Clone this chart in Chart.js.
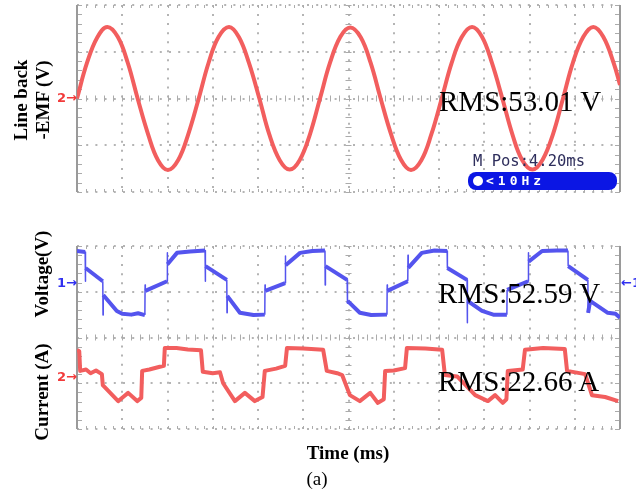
<!DOCTYPE html>
<html>
<head>
<meta charset="utf-8">
<script src="https://cdn.jsdelivr.net/npm/chart.js@4.4.1/dist/chart.umd.min.js"></script>
<style>
  html, body { margin: 0; padding: 0; background: #fff; }
  body { position: relative; width: 636px; height: 500px; overflow: hidden; }
  canvas { position: absolute; left: 0; }
  .txt { position: absolute; white-space: pre; line-height: 1; color: #000; }
  .rms { font: 29px 'Liberation Serif', serif; }
  .ytitle { position: absolute; white-space: pre; text-align: center;
            font: bold 19px 'Liberation Serif', serif; line-height: 22px;
            transform: translate(-50%, -50%) rotate(-90deg); }
  .mk { position: absolute; font: bold 13px 'DejaVu Sans', sans-serif; line-height: 13px; white-space: pre; }
  #mpos { position: absolute; left: 473px; top: 154px; font: 15.5px 'DejaVu Sans Mono', monospace;
          line-height: 1; color: #2e2e5c; }
  #trig { position: absolute; left: 468px; top: 172px; width: 149px; height: 18px; border-radius: 8px;
          background: #0b16e4; color: #fff; font: bold 13px 'DejaVu Sans Mono', monospace;
          line-height: 18px; letter-spacing: 4px; }
  #trig span.ico { display: inline-block; width: 10px; height: 10px; border-radius: 50%; background: #fff;
          margin: 0 3px 0 5px; vertical-align: -1px; }
</style>
</head>
<body>
<canvas id="emfChart" width="636" height="215" style="top:0"></canvas>
<canvas id="viChart" width="636" height="275" style="top:225px"></canvas>

<div class="ytitle" style="left:31.6px; top:100px">Line back<br>-EMF (V)</div>
<div class="ytitle" style="left:41.6px; top:274px">Voltage(V)</div>
<div class="ytitle" style="left:41.6px; top:392px">Current (A)</div>

<div class="mk" style="right:559px; top:91px; color:#f23a3a">2→</div>
<div class="mk" style="right:559px; top:276px; color:#3030f0">1→</div>
<div class="mk" style="right:559px; top:370px; color:#f23a3a">2→</div>
<div class="mk" style="left:621px; top:276px; color:#3030f0">←1</div>

<div class="txt rms" style="left:439px; top:85px">RMS:53.01 V</div>
<div class="txt rms" style="left:438px; top:277px">RMS:52.59 V</div>
<div class="txt rms" style="left:438px; top:365px">RMS:22.66 A</div>

<div id="mpos">M Pos:4.20ms</div>
<div id="trig"><span class="ico"></span>&lt;10Hz</div>

<div class="txt" style="left:348px; top:442px; transform:translateX(-50%); font:bold 19px 'Liberation Serif', serif">Time (ms)</div>
<div class="txt" style="left:317px; top:468px; transform:translateX(-50%); font:19px 'Liberation Serif', serif">(a)</div>

<script>
// time axis in scope divisions (12 div across), amplitude in vertical divisions

// line back-EMF
const emfTime = [0, 0.22, 0.45, 0.67, 0.90, 1.12, 1.34, 1.57, 1.79, 2.01, 2.24, 2.46,
  2.69, 2.91, 3.13, 3.36, 3.58, 3.80, 4.03, 4.25, 4.48, 4.70, 4.92, 5.15,
  5.37, 5.59, 5.82, 6.04, 6.27, 6.49, 6.71, 6.94, 7.16, 7.38, 7.61, 7.83,
  8.06, 8.28, 8.50, 8.73, 8.95, 9.17, 9.40, 9.62, 9.84, 10.07, 10.29, 10.52,
  10.74, 10.96, 11.19, 11.41, 11.63, 11.86, 12.0];
const emfVolts = [0, 0.76, 1.31, 1.53, 1.32, 0.77, 0, -0.76, -1.32, -1.53, -1.31, -0.76,
  0, 0.77, 1.32, 1.53, 1.31, 0.76, 0, -0.77, -1.32, -1.52, -1.32, -0.76,
  0, 0.76, 1.32, 1.52, 1.31, 0.76, 0, -0.76, -1.31, -1.53, -1.32, -0.77,
  0, 0.76, 1.31, 1.53, 1.32, 0.76, 0, -0.76, -1.32, -1.52, -1.31, -0.76,
  0, 0.77, 1.32, 1.53, 1.32, 0.76, 0.29];

// phase voltage (channel 1)
const voltTime = [0, 0.18, 0.185, 0.19, 0.57, 0.575, 0.58, 0.88, 1.0, 1.2, 1.35, 1.5,
  1.505, 1.51, 1.99, 1.995, 2.0, 2.21, 2.5, 2.83, 2.835, 2.84, 3.31, 3.315,
  3.32, 3.6, 3.9, 4.15, 4.155, 4.16, 4.6, 4.605, 4.61, 4.93, 5.2, 5.48,
  5.485, 5.49, 5.97, 5.975, 5.98, 6.25, 6.5, 6.85, 6.855, 6.86, 7.31, 7.315,
  7.32, 7.62, 7.9, 8.18, 8.185, 8.62, 8.625, 8.63, 8.95, 9.2, 9.5, 9.505,
  9.97, 9.975, 9.98, 10.28, 10.6, 10.85, 10.855, 11.29, 11.295, 11.34, 11.73, 11.9, 12.0];
const voltLevel = [1.89, 1.87, 1.23, 1.52, 1.23, 0.49, 0.93, 0.58, 0.52, 0.50, 0.53, 0.49,
  1.15, 1.02, 1.23, 1.85, 1.60, 1.85, 1.88, 1.90, 1.23, 1.56, 1.26, 0.54,
  0.91, 0.54, 0.49, 0.50, 1.15, 1.02, 1.19, 1.78, 1.58, 1.85, 1.89, 1.90,
  1.15, 1.56, 1.26, 0.75, 0.80, 0.54, 0.49, 0.50, 1.15, 1.02, 1.23, 1.80,
  1.52, 1.85, 1.90, 1.89, 1.52, 1.26, 0.32, 0.80, 0.58, 0.50, 0.50, 1.04,
  1.23, 1.85, 1.66, 1.89, 1.90, 1.90, 1.56, 1.26, 0.54, 0.80, 0.54, 0.52, 0.43];

// phase current (channel 2)
const currTime = [0, 0.05, 0.07, 0.2, 0.3, 0.42, 0.55, 0.57, 0.91, 1.02, 1.13, 1.33,
  1.42, 1.44, 1.6, 1.83, 1.92, 1.94, 2.2, 2.45, 2.74, 2.78, 3.0, 3.16,
  3.23, 3.49, 3.71, 3.93, 4.1, 4.15, 4.4, 4.6, 4.64, 5.0, 5.44, 5.52,
  5.75, 5.86, 6.03, 6.25, 6.48, 6.65, 6.78, 6.81, 7.0, 7.25, 7.29, 7.7,
  8.07, 8.13, 8.4, 8.6, 8.8, 9.08, 9.24, 9.41, 9.49, 9.52, 9.85, 9.9,
  10.3, 10.78, 10.83, 11.23, 11.38, 11.67, 11.96];
const currLevel = [-0.27, -0.30, -0.73, -0.70, -0.78, -0.72, -0.80, -1.04, -1.39, -1.30, -1.21, -1.39,
  -1.32, -0.73, -0.70, -0.64, -0.62, -0.23, -0.23, -0.26, -0.28, -0.75, -0.78, -0.76,
  -1.00, -1.39, -1.21, -1.39, -1.30, -0.73, -0.68, -0.62, -0.23, -0.24, -0.27, -0.73,
  -0.78, -0.82, -1.26, -1.39, -1.21, -1.43, -1.35, -0.73, -0.72, -0.67, -0.23, -0.24,
  -0.27, -0.82, -0.85, -1.05, -1.26, -1.39, -1.26, -1.43, -1.35, -0.73, -0.70, -0.27,
  -0.23, -0.25, -0.73, -0.80, -1.26, -1.30, -1.39];

const redTrace = 'rgb(242, 94, 94)';
const blueTrace = 'rgb(84, 84, 238)';

const toPoints = (xs, ys) => xs.map((t, i) => ({ x: t, y: ys[i] }));

// switching edges and spikes are drawn thin, like on the scope screen
const thinEdges = { borderWidth: c => (c.p1.parsed.x - c.p0.parsed.x < 0.008 ? 1.5 : undefined) };

// oscilloscope graticule: fine ticks on the edges and on the centre lines
const scopeFrame = {
  id: 'scopeFrame',
  beforeDatasetsDraw(chart) {
    const { ctx, chartArea: a, scales: { x, y } } = chart;
    const seg = (x1, y1, x2, y2) => { ctx.beginPath(); ctx.moveTo(x1, y1); ctx.lineTo(x2, y2); ctx.stroke(); };
    const cx = x.getPixelForValue(6);
    const cy = y.getPixelForValue(0);
    ctx.save();
    ctx.strokeStyle = '#ababab';
    ctx.lineWidth = 1;
    for (let v = y.min; v <= y.max + 1e-6; v += 0.2) {
      const py = Math.round(y.getPixelForValue(v)) + 0.5;
      seg(a.left, py, a.left + 5, py);
      seg(a.right - 5, py, a.right, py);
      seg(cx - 3, py, cx + 3, py);
    }
    for (let v = x.min; v <= x.max + 1e-6; v += 0.2) {
      const px = Math.round(x.getPixelForValue(v)) + 0.5;
      seg(px, cy - 3, px, cy + 3);
      seg(px, a.top, px, a.top + 3);
      seg(px, a.bottom - 3, px, a.bottom);
    }
    ctx.strokeStyle = '#9a9a9a';
    ctx.lineWidth = 2;
    seg(a.left, a.top, a.left, a.bottom);
    seg(a.right, a.top, a.right, a.bottom);
    ctx.restore();
  }
};

function scopeOptions(padTop, padBottom) {
  return {
    responsive: false,
    animation: false,
    events: [],
    layout: { padding: { left: 77, right: 16, top: padTop, bottom: padBottom } },
    plugins: { legend: { display: false }, tooltip: { enabled: false } },
    elements: { point: { radius: 0 }, line: { borderJoinStyle: 'round' } },
    scales: {
      x: {
        type: 'linear', min: 0, max: 12,
        ticks: { display: false, stepSize: 1 },
        grid: { color: '#b4b4b4', lineWidth: 2, drawTicks: false },
        border: { display: false, dash: [2, 7.05] },
        afterFit: s => { s.height = 0; }
      },
      y: {
        min: -2, max: 2,
        ticks: { display: false, stepSize: 1 },
        grid: { color: '#b4b4b4', lineWidth: 2, drawTicks: false },
        border: { display: false, dash: [2, 7.2] },
        afterFit: s => { s.width = 0; }
      }
    }
  };
}

new Chart(document.getElementById('emfChart'), {
  type: 'line',
  data: {
    datasets: [{
      label: 'Line back-EMF',
      data: toPoints(emfTime, emfVolts),
      borderColor: redTrace,
      borderWidth: 4,
      tension: 0.4,
      fill: false
    }]
  },
  options: scopeOptions(5, 23),
  plugins: [scopeFrame]
});

new Chart(document.getElementById('viChart'), {
  type: 'line',
  data: {
    datasets: [{
      label: 'Voltage',
      data: toPoints(voltTime, voltLevel),
      borderColor: blueTrace,
      borderWidth: 4,
      tension: 0,
      fill: false,
      segment: thinEdges
    }, {
      label: 'Current',
      data: toPoints(currTime, currLevel),
      borderColor: redTrace,
      borderWidth: 4,
      tension: 0,
      fill: false,
      segment: thinEdges
    }]
  },
  options: scopeOptions(21, 71),
  plugins: [scopeFrame]
});
</script>
</body>
</html>
